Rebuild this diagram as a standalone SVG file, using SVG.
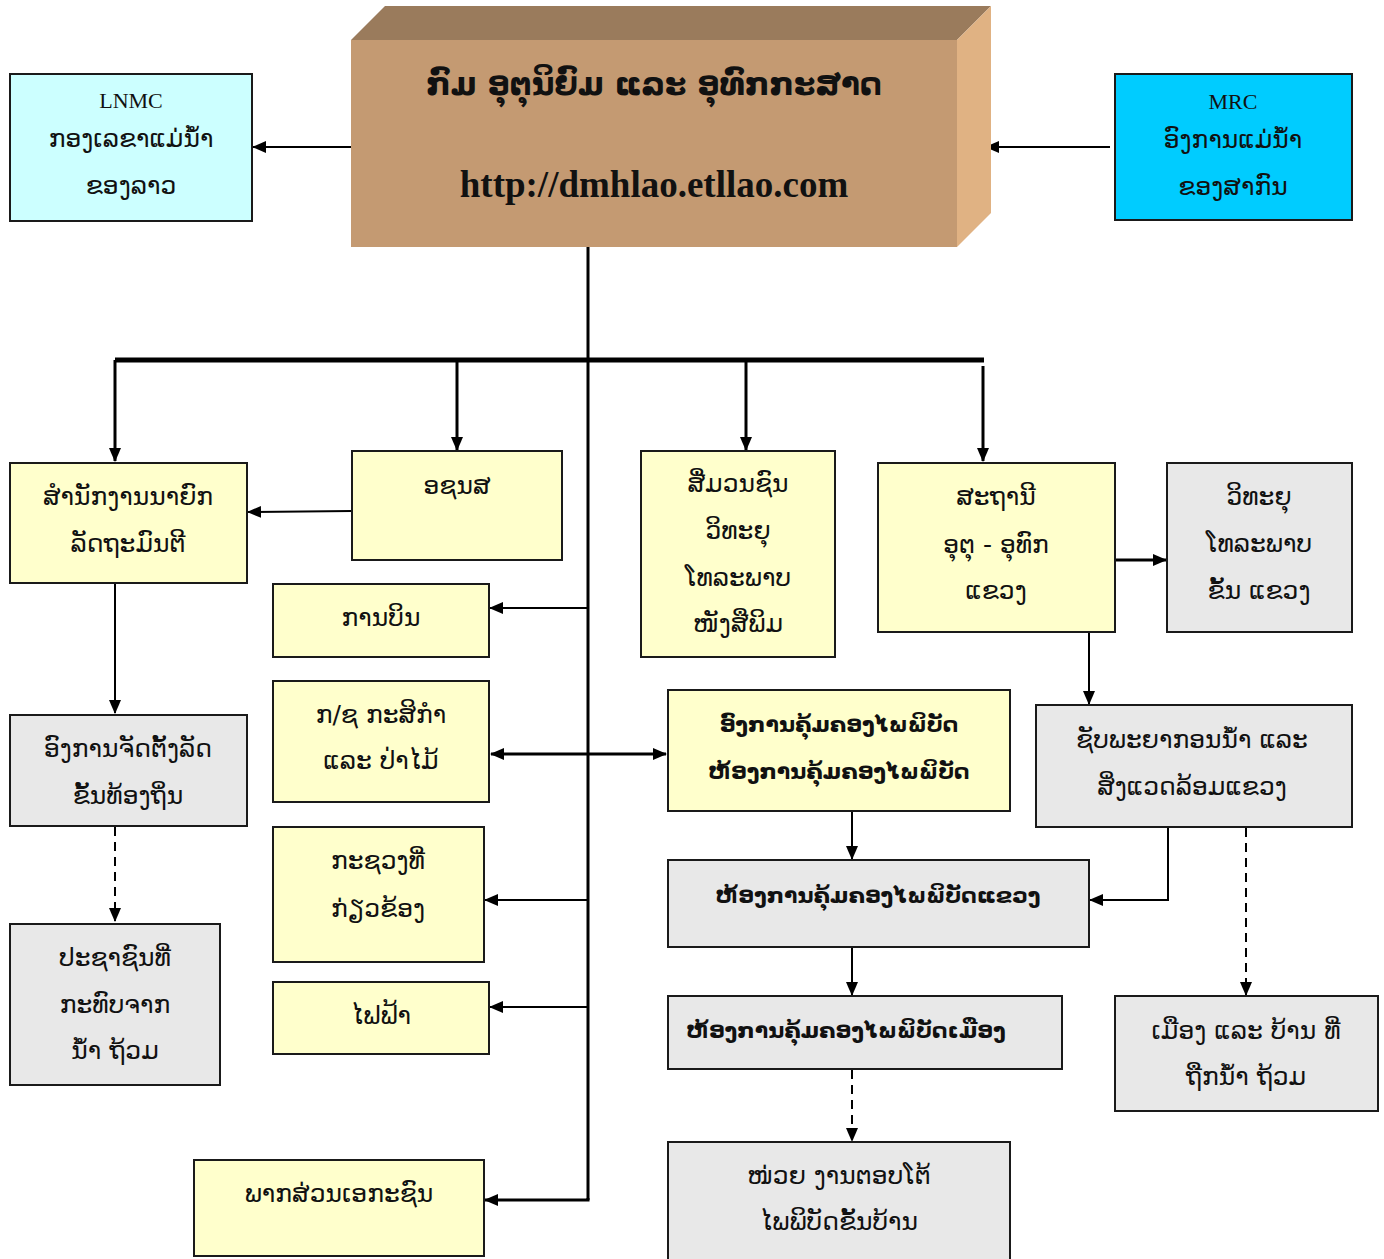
<svg xmlns="http://www.w3.org/2000/svg" width="1384" height="1259" viewBox="0 0 1384 1259">
<defs>
<marker id="ah" markerUnits="userSpaceOnUse" markerWidth="14" markerHeight="14" viewBox="0 0 14 14" refX="13" refY="7" orient="auto">
<path d="M0,1 L14,7 L0,13 Z" fill="#000"/>
</marker>
<marker id="ahs" markerUnits="userSpaceOnUse" markerWidth="14" markerHeight="14" viewBox="0 0 14 14" refX="1" refY="7" orient="auto">
<path d="M14,1 L0,7 L14,13 Z" fill="#000"/>
</marker>
</defs>
<style>
.box{stroke:#1a1a1a;stroke-width:2}
.y{fill:#FFFFCC}
.g{fill:#E8E8E8}
.t{font-family:"DejaVu Sans","Noto Sans",sans-serif;font-size:25px;fill:#111;text-anchor:middle}
.b{font-weight:bold;font-size:22px}
.e{font-family:"Liberation Serif","DejaVu Serif",serif;font-size:22px;fill:#111;text-anchor:middle}
.c{fill:none;stroke:#000;stroke-width:2}
.k{fill:none;stroke:#000;stroke-width:3}
.d{stroke-dasharray:9,6}
</style>
<rect width="1384" height="1259" fill="#fff"/>

<g id="connectors">
<line class="c" x1="351" y1="147" x2="253" y2="147" marker-end="url(#ah)"/>
<line class="c" x1="1110" y1="147" x2="986" y2="147" marker-end="url(#ah)"/>
<line class="k" x1="588" y1="245" x2="588" y2="1200"/>
<line x1="115" y1="360" x2="984" y2="360" stroke="#000" stroke-width="5"/>
<line class="k" x1="115" y1="360" x2="115" y2="461" marker-end="url(#ah)"/>
<line class="k" x1="457" y1="360" x2="457" y2="450" marker-end="url(#ah)"/>
<line class="k" x1="746" y1="360" x2="746" y2="450" marker-end="url(#ah)"/>
<line class="k" x1="983" y1="366" x2="983" y2="461" marker-end="url(#ah)"/>
<line class="c" x1="352" y1="511" x2="248" y2="512" marker-end="url(#ah)"/>
<line class="c" x1="588" y1="608" x2="490" y2="608" marker-end="url(#ah)"/>
<line class="k" x1="1115" y1="560" x2="1166" y2="560" marker-end="url(#ah)"/>
<line class="c" x1="1089" y1="632" x2="1089" y2="704" marker-end="url(#ah)"/>
<polyline class="c" points="1168,827 1168,900 1090,900" marker-end="url(#ah)"/>
<line class="c d" x1="1246" y1="828" x2="1246" y2="995" marker-end="url(#ah)"/>
<line class="k" x1="491" y1="754" x2="666" y2="754" marker-start="url(#ahs)" marker-end="url(#ah)"/>
<line class="c" x1="852" y1="811" x2="852" y2="859" marker-end="url(#ah)"/>
<line class="c" x1="852" y1="947" x2="852" y2="995" marker-end="url(#ah)"/>
<line class="c d" x1="852" y1="1070" x2="852" y2="1141" marker-end="url(#ah)"/>
<line class="c" x1="588" y1="900" x2="485" y2="900" marker-end="url(#ah)"/>
<line class="c" x1="588" y1="1007" x2="490" y2="1007" marker-end="url(#ah)"/>
<polyline class="k" points="588,1198 588,1200 485,1200" marker-end="url(#ah)"/>
<line class="c" x1="115" y1="584" x2="115" y2="713" marker-end="url(#ah)"/>
<line class="c d" x1="115" y1="827" x2="115" y2="921" marker-end="url(#ah)"/>
</g>

<g id="main">
<polygon points="351,40 385,6 991,6 957,40" fill="#9A7B5C"/>
<polygon points="957,40 991,6 991,213 957,247" fill="#E0B283"/>
<rect x="351" y="40" width="606" height="207" fill="#C49A72"/>
<text class="t" x="654" y="95" style="font-size:31px;font-weight:bold">ກົມ ອຸຕຸນິຍົມ ແລະ ອຸທົກກະສາດ</text>
<text class="e" x="654" y="197" style="font-size:37px;font-weight:bold">http://dmhlao.etllao.com</text>
</g>

<g id="lnmc">
<rect class="box" x="10" y="74" width="242" height="147" fill="#CCFFFF"/>
<text class="e" x="131" y="108">LNMC</text>
<text class="t" x="131" y="147">ກອງເລຂາແມ່ນ້ຳ</text>
<text class="t" x="131" y="194">ຂອງລາວ</text>
</g>

<g id="mrc">
<rect class="box" x="1115" y="74" width="237" height="146" fill="#00CCFF"/>
<text class="e" x="1233" y="109">MRC</text>
<text class="t" x="1233" y="148">ອົງການແມ່ນ້ຳ</text>
<text class="t" x="1233" y="195">ຂອງສາກົນ</text>
</g>

<g id="pmo">
<rect class="box y" x="10" y="463" width="237" height="120"/>
<text class="t" x="128" y="505">ສຳນັກງານນາຍົກ</text>
<text class="t" x="128" y="552">ລັດຖະມົນຕີ</text>
</g>

<g id="oxns">
<rect class="box y" x="352" y="451" width="210" height="109"/>
<text class="t" x="457" y="494">ອຊນສ</text>
</g>

<g id="aviation">
<rect class="box y" x="273" y="584" width="216" height="73"/>
<text class="t" x="381" y="626">ການບິນ</text>
</g>

<g id="media">
<rect class="box y" x="641" y="451" width="194" height="206"/>
<text class="t" x="738" y="492">ສື່ມວນຊົນ</text>
<text class="t" x="738" y="539">ວິທະຍຸ</text>
<text class="t" x="738" y="586">ໂທລະພາບ</text>
<text class="t" x="738" y="632">ໜັງສືພິມ</text>
</g>

<g id="station">
<rect class="box y" x="878" y="463" width="237" height="169"/>
<text class="t" x="996" y="505">ສະຖານີ</text>
<text class="t" x="996" y="553">ອຸຕຸ - ອຸທົກ</text>
<text class="t" x="996" y="599">ແຂວງ</text>
</g>

<g id="provmedia">
<rect class="box g" x="1167" y="463" width="185" height="169"/>
<text class="t" x="1259" y="505">ວິທະຍຸ</text>
<text class="t" x="1259" y="552">ໂທລະພາບ</text>
<text class="t" x="1259" y="599">ຂັ້ນ ແຂວງ</text>
</g>

<g id="agri">
<rect class="box y" x="273" y="681" width="216" height="121"/>
<text class="t" x="381" y="723">ກ/ຊ ກະສິກຳ</text>
<text class="t" x="381" y="769">ແລະ ປ່າໄມ້</text>
</g>

<g id="dmo">
<rect class="box y" x="668" y="690" width="342" height="121"/>
<text class="t b" x="839" y="732">ອົງການຄຸ້ມຄອງໄພພິບັດ</text>
<text class="t b" x="839" y="779">ຫ້ອງການຄຸ້ມຄອງໄພພິບັດ</text>
</g>

<g id="water">
<rect class="box g" x="1036" y="705" width="316" height="122"/>
<text class="t" x="1192" y="748">ຊັບພະຍາກອນນ້ຳ ແລະ</text>
<text class="t" x="1192" y="795">ສິ່ງແວດລ້ອມແຂວງ</text>
</g>

<g id="localgov">
<rect class="box g" x="10" y="715" width="237" height="111"/>
<text class="t" x="128" y="757">ອົງການຈັດຕັ້ງລັດ</text>
<text class="t" x="128" y="804">ຂັ້ນທ້ອງຖິ່ນ</text>
</g>

<g id="provoffice">
<rect class="box g" x="668" y="860" width="421" height="87"/>
<text class="t b" x="878" y="903">ຫ້ອງການຄຸ້ມຄອງໄພພິບັດແຂວງ</text>
</g>

<g id="ministries">
<rect class="box y" x="273" y="827" width="211" height="135"/>
<text class="t" x="378" y="869">ກະຊວງທີ່</text>
<text class="t" x="378" y="917">ກ່ຽວຂ້ອງ</text>
</g>

<g id="people">
<rect class="box g" x="10" y="924" width="210" height="161"/>
<text class="t" x="115" y="966">ປະຊາຊົນທີ່</text>
<text class="t" x="115" y="1013">ກະທົບຈາກ</text>
<text class="t" x="115" y="1059">ນ້ຳ ຖ້ວມ</text>
</g>

<g id="districts">
<rect class="box g" x="1115" y="996" width="263" height="115"/>
<text class="t" x="1246" y="1039">ເມືອງ ແລະ ບ້ານ ທີ່</text>
<text class="t" x="1246" y="1085">ຖືກນ້ຳ ຖ້ວມ</text>
</g>

<g id="distoffice">
<rect class="box g" x="668" y="996" width="394" height="73"/>
<text class="t b" x="846" y="1038">ຫ້ອງການຄຸ້ມຄອງໄພພິບັດເມືອງ</text>
</g>

<g id="power">
<rect class="box y" x="273" y="982" width="216" height="72"/>
<text class="t" x="381" y="1024">ໄຟຟ້າ</text>
</g>

<g id="village">
<rect class="box g" x="668" y="1142" width="342" height="120"/>
<text class="t" x="839" y="1184">ໜ່ວຍ ງານຕອບໂຕ້</text>
<text class="t" x="839" y="1230">ໄພພິບັດຂັ້ນບ້ານ</text>
</g>

<g id="private">
<rect class="box y" x="194" y="1160" width="290" height="96"/>
<text class="t" x="339" y="1202">ພາກສ່ວນເອກະຊົນ</text>
</g>
</svg>
